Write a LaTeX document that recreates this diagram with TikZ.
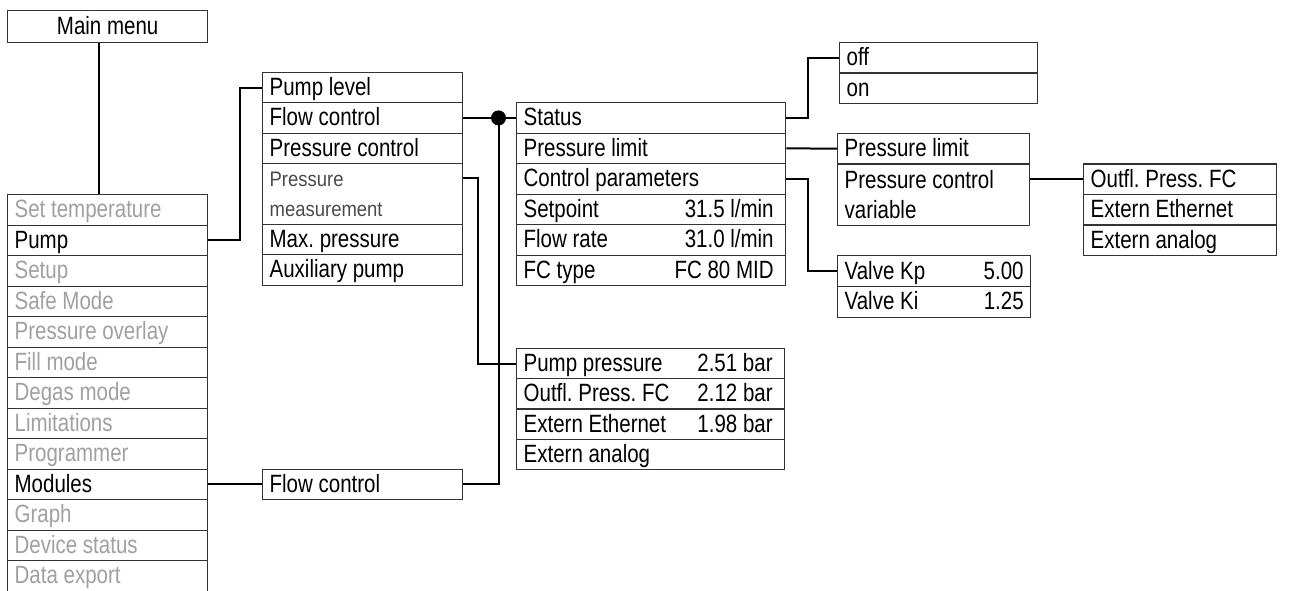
\documentclass[tikz,border=0pt]{standalone}
\usepackage{fontspec}
\setmainfont{Liberation Sans}[FakeStretch=0.82]
\newfontfamily\pmfont{Liberation Sans}[FakeStretch=0.88]
\usetikzlibrary{calc}
\definecolor{inact}{HTML}{A0A0A0}
\definecolor{pmcol}{HTML}{4A4A4A}
\definecolor{edgecol}{HTML}{333333}
\begin{document}
\frenchspacing
\begin{tikzpicture}[x=1pt,y=-1pt,
  cell/.style={draw=edgecol, line width=1.3pt, anchor=north west, inner xsep=7pt, inner ysep=0pt,
    align=flush left, font=\fontsize{25}{30}\selectfont\frenchspacing},
  one/.style={text height=20pt, text depth=4pt},
  lrow/.style={cell, one, minimum width=200pt, minimum height=30.5pt, text width=186pt},
  inactive/.style={text=inact},
  srow/.style={cell, one, minimum width=269pt, minimum height=30.5pt, text width=255pt},
  orow/.style={cell, one, minimum width=198pt, minimum height=30.5pt, text width=184pt},
  prow/.style={cell, one, minimum width=192pt, minimum height=30.5pt, text width=178pt},
  vrow/.style={cell, one, minimum width=193pt, minimum height=30.75pt, text width=179pt},
  xrow/.style={cell, one, minimum width=193pt, minimum height=30.5pt, text width=179pt},
  qrow/.style={cell, one, minimum width=268pt, minimum height=30.3pt, text width=254pt},
  conn/.style={line width=2pt, black},
  dotstyle/.style={circle, fill=black, inner sep=0pt, minimum size=15pt}]
\useasboundingbox (0,0) rectangle (1298,590);

% main menu
\node[cell, one, align=flush center, minimum width=200pt, minimum height=31.5pt, text width=186pt] (main) at (7,10) {Main menu};

% left column
\node[lrow, inactive] (st) at (7,194) {Set temperature};
\node[lrow] (pump) at (7,224.5) {Pump};
\node[lrow, inactive] (setup) at (7,255) {Setup};
\node[lrow, inactive] (safe) at (7,285.5) {Safe Mode};
\node[lrow, inactive] (overlay) at (7,316) {Pressure overlay};
\node[lrow, inactive] (fill) at (7,346.5) {Fill mode};
\node[lrow, inactive] (degas) at (7,377) {Degas mode};
\node[lrow, inactive] (lim) at (7,407.5) {Limitations};
\node[lrow, inactive] (prog) at (7,438) {Programmer};
\node[lrow] (modules) at (7,468.5) {Modules};
\node[lrow, inactive] (graph) at (7,499) {Graph};
\node[lrow, inactive] (devstat) at (7,529.5) {Device status};
\node[lrow, inactive] (export) at (7,560) {Data export};

% pump submenu
\node[lrow, minimum height=30pt] (plevel) at (262,72) {Pump level};
\node[lrow] (fctrl) at (262,102) {Flow control};
\node[lrow] (pctrl) at (262,132.5) {Pressure control};
\node[cell, minimum width=200pt, minimum height=60.5pt, text width=186pt,
      font=\pmfont\fontsize{21}{30}\selectfont, text=pmcol] (pmeas) at (262,163) {Pressure\\measurement};
\node[lrow] (maxp) at (262,223.5) {Max. pressure};
\node[lrow] (aux) at (262,254) {Auxiliary pump};

% modules submenu
\node[lrow] (flow2) at (262,468.5) {Flow control};

% flow control menu
\node[srow] (status) at (516,102) {Status};
\node[srow] (plim) at (516,132.5) {Pressure limit};
\node[srow] (cparam) at (516,163) {Control parameters};
\node[srow] (setp) at (516,193.5) {\hbox to 255pt{Setpoint\hfill 31.5 l/min\hspace{5pt}}};
\node[srow] (frate) at (516,224) {\hbox to 255pt{Flow rate\hfill 31.0 l/min\hspace{5pt}}};
\node[srow] (fctype) at (516,254.5) {\hbox to 255pt{FC type\hfill FC 80 MID\hspace{5pt}}};

% status options
\node[orow] (off) at (839,41.7) {off};
\node[orow] (on) at (839,72.2) {on};

% pressure limit menu
\node[prow] (plim2) at (837,132.7) {Pressure limit};
\node[cell, minimum width=192pt, minimum height=61.8pt, text width=178pt] (pcvar) at (837,163.2) {Pressure control\\variable};

% control variable options
\node[xrow] (outfl) at (1083,163.3) {Outfl. Press. FC};
\node[xrow] (eeth) at (1083,193.8) {Extern Ethernet};
\node[xrow] (eana) at (1083,224.3) {Extern analog};

% control parameters
\node[vrow] (vkp) at (837,255) {\hbox to 179pt{Valve Kp\hfill 5.00}};
\node[vrow] (vki) at (837,285.75) {\hbox to 179pt{Valve Ki\hfill 1.25}};

% pressure measurement values
\node[qrow] (ppress) at (516,347.7) {\hbox to 254pt{Pump pressure\hfill 2.51 bar\hspace{5pt}}};
\node[qrow] (outfl2) at (516,378) {\hbox to 254pt{Outfl. Press. FC\hfill 2.12 bar\hspace{5pt}}};
\node[qrow] (eeth2) at (516,408.3) {\hbox to 254pt{Extern Ethernet\hfill 1.98 bar\hspace{5pt}}};
\node[qrow] (eana2) at (516,438.6) {Extern analog};

% connectors
\coordinate (b1) at (240,0);
\coordinate (b2) at (498.5,0);
\coordinate (b3) at (478,0);
\coordinate (b4) at (808,0);
\draw[conn] ([xshift=-9pt]main.south) -- ([xshift=-9pt]main.south |- st.north);
\draw[conn] (pump.east) -| (b1 |- plevel.west) -- (plevel.west);
\draw[conn] (modules.east) -- (flow2.west);
\node[dotstyle] (dot) at (b2 |- fctrl.east) {};
\draw[conn] (fctrl.east) -- (dot.center) -- (status.west);
\draw[conn] (dot.center) |- (flow2.east);
\draw[conn] ([yshift=-15pt]pmeas.north east) -| (b3 |- ppress.west) -- (ppress.west);
\draw[conn] (status.east) -| (b4 |- off.west) -- (off.west);
\draw[conn] (plim.east) -- (plim2.west);
\draw[conn] (cparam.east) -| (b4 |- vkp.west) -- (vkp.west);
\draw[conn] (outfl.west -| pcvar.east) -- (outfl.west);
\end{tikzpicture}
\end{document}
